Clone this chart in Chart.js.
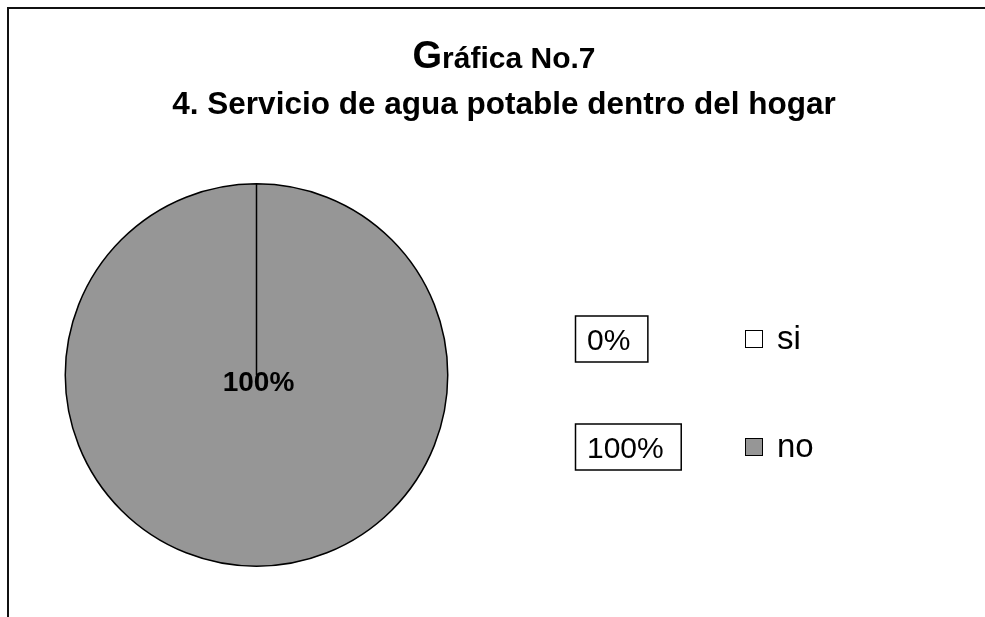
<!DOCTYPE html>
<html>
<head>
<meta charset="utf-8">
<script src="https://cdn.jsdelivr.net/npm/chart.js@4/dist/chart.umd.min.js"></script>
<style>
  html, body { margin: 0; padding: 0; background: #fff; overflow: hidden; }
  #wrap { width: 985px; height: 617px; }
</style>
</head>
<body>
<div id="wrap"><canvas id="pie" width="985" height="617"></canvas></div>
<script>
// datos
const categories = ['si', 'no'];
const values = [0, 100];
const titleLines = ['Gráfica No.7', '4. Servicio de agua potable dentro del hogar'];

const FONT = '"Liberation Sans", Arial, sans-serif';
const sliceColors = ['#ffffff', '#969696'];

const pct = v => Math.round(v / values.reduce((a, b) => a + b, 0) * 100) + '%';

// marco, título, etiquetas con recuadro y leyenda al estilo Excel
const excelDecor = {
  id: 'excelDecor',
  beforeDraw(chart) {
    const c = chart.ctx;
    c.save();
    c.strokeStyle = '#111';
    c.lineWidth = 2;
    c.beginPath();
    c.moveTo(8, 617);
    c.lineTo(8, 8);
    c.lineTo(985, 8);
    c.stroke();
    c.restore();
  },
  afterDraw(chart) {
    const c = chart.ctx;
    c.save();
    c.fillStyle = '#000';
    c.textBaseline = 'alphabetic';

    // título, con la "G" más grande
    const bigG = 'bold 38px ' + FONT, rest = 'bold 30px ' + FONT;
    const first = titleLines[0];
    c.font = bigG;
    const wG = c.measureText(first[0]).width;
    c.font = rest;
    const wR = c.measureText(first.slice(1)).width;
    let x0 = 504 - (wG + wR) / 2;
    c.textAlign = 'left';
    c.font = bigG;
    c.fillText(first[0], x0, 68);
    c.font = rest;
    c.fillText(first.slice(1), x0 + wG, 68);
    c.font = 'bold 31.5px ' + FONT;
    c.textAlign = 'center';
    c.fillText(titleLines[1], 504, 114);

    // etiqueta dentro del sector
    const meta = chart.getDatasetMeta(0);
    meta.data.forEach((arc, i) => {
      if (values[i] === 0) return;
      c.font = 'bold 28px ' + FONT;
      c.textAlign = 'center';
      c.textBaseline = 'middle';
      c.fillText(pct(values[i]), arc.x + 2, arc.y + 8);
    });

    // etiquetas con recuadro + leyenda
    const rowY = [339, 447];
    categories.forEach((cat, i) => {
      const cy = rowY[i];
      const txt = pct(values[i]);
      c.font = '30px ' + FONT;
      c.textAlign = 'left';
      c.textBaseline = 'alphabetic';
      const tw = c.measureText(txt).width;
      c.lineWidth = 1.5;
      c.strokeStyle = '#000';
      c.strokeRect(575.5, cy - 23, tw + 29, 46);
      c.fillStyle = '#000';
      c.fillText(txt, 587, cy + 11);

      c.fillStyle = sliceColors[i];
      c.fillRect(745, cy - 9, 18, 18);
      c.lineWidth = 1;
      c.strokeStyle = '#000';
      c.strokeRect(745.5, cy - 8.5, 17, 17);
      c.fillStyle = '#000';
      c.font = '33px ' + FONT;
      c.fillText(cat, 777, cy + 10);
    });
    c.restore();
  }
};

new Chart(document.getElementById('pie'), {
  type: 'pie',
  data: {
    labels: categories,
    datasets: [{
      data: values,
      backgroundColor: sliceColors,
      borderColor: '#000',
      borderWidth: 1.5
    }]
  },
  options: {
    responsive: false,
    animation: false,
    devicePixelRatio: 1,
    layout: { padding: { left: 64, right: 536, top: 183, bottom: 50 } },
    plugins: {
      legend: { display: false },
      title: { display: false },
      tooltip: { enabled: false }
    }
  },
  plugins: [excelDecor]
});
</script>
</body>
</html>
